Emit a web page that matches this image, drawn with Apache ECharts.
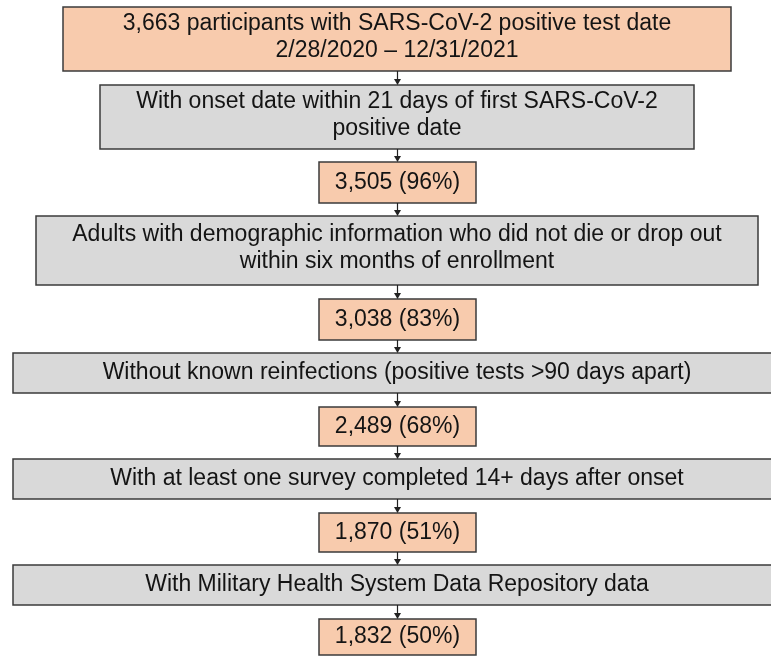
<!DOCTYPE html>
<html>
<head>
<meta charset="utf-8">
<script src="https://cdn.jsdelivr.net/npm/echarts@6/dist/echarts.min.js"></script>
<style>
html,body{margin:0;padding:0;background:#fff;}
#chart{width:771px;height:656px;}
</style>
</head>
<body>
<div id="chart"></div>
<script>
// ---- data ----
const startLines = ["3,663 participants with SARS-CoV-2 positive test date", "2/28/2020 \u2013 12/31/2021"];
const criteria = [
  ["With onset date within 21 days of first SARS-CoV-2", "positive date"],
  ["Adults with demographic information who did not die or drop out", "within six months of enrollment"],
  ["Without known reinfections (positive tests >90 days apart)"],
  ["With at least one survey completed 14+ days after onset"],
  ["With Military Health System Data Repository data"]
];
const counts = [3505, 3038, 2489, 1870, 1832];
const percents = [96, 83, 68, 51, 50];

// ---- layout (style, chart units: x 0..771, y 0..656 top-down) ----
const boxLayout = [
  [63, 731, 7, 71],
  [100, 694, 85, 149],
  [319, 476, 162, 203],
  [36, 758, 216, 285],
  [319, 476, 299, 340],
  [13, 781, 353, 393],
  [319, 476, 407, 446],
  [13, 781, 459, 499],
  [319, 476, 513, 552],
  [13, 781, 565, 605],
  [319, 476, 619, 655]
];
const arrowX = 397.5;
const ORANGE = '#F8CBAD', GRAY = '#D9D9D9', BORDER = '#3b3b3b', TEXT = '#141414';

// ---- build nodes ----
const fmt = n => n.toLocaleString('en-US');
const nodes = [{ lines: startLines, kind: 'count' }];
criteria.forEach((c, i) => {
  nodes.push({ lines: c, kind: 'criterion' });
  nodes.push({ lines: [fmt(counts[i]) + ' (' + percents[i] + '%)'], kind: 'count' });
});

const chart = echarts.init(document.getElementById('chart'), null, { renderer: 'canvas' });
chart.setOption({
  animation: false,
  backgroundColor: '#ffffff',
  grid: { left: 0, right: 0, top: 0, bottom: 0 },
  xAxis: { type: 'value', min: 0, max: 771, show: false },
  yAxis: { type: 'value', min: 0, max: 656, inverse: true, show: false },
  series: [{
    type: 'custom',
    clip: false,
    data: nodes.map((n, i) => [i, i]),
    renderItem: function (params, api) {
      const i = api.value(0);
      const node = nodes[i];
      const b = boxLayout[i];
      const tl = api.coord([b[0], b[2]]);
      const br = api.coord([b[1], b[3]]);
      const cx = (tl[0] + br[0]) / 2, cy = (tl[1] + br[1]) / 2;
      const children = [{
        type: 'rect',
        shape: { x: tl[0], y: tl[1], width: br[0] - tl[0], height: br[1] - tl[1] },
        style: { fill: node.kind === 'count' ? ORANGE : GRAY, stroke: BORDER, lineWidth: 1.5 }
      }, {
        type: 'text',
        style: {
          text: node.lines.join('\n'),
          x: cx, y: cy - (node.lines.length > 1 ? 2 : 0),
          align: 'center', verticalAlign: 'middle',
          font: '23px "Liberation Sans", Arial, sans-serif',
          lineHeight: 27,
          fill: TEXT
        }
      }];
      if (i > 0) {
        const pb = boxLayout[i - 1];
        const p0 = api.coord([arrowX, pb[3]]);
        const p1 = api.coord([arrowX, b[2]]);
        children.push({
          type: 'line',
          shape: { x1: p0[0], y1: p0[1], x2: p1[0], y2: p1[1] - 5 },
          style: { stroke: '#222', lineWidth: 1.2 }
        });
        children.push({
          type: 'polygon',
          shape: { points: [[p1[0] - 3.5, p1[1] - 6], [p1[0] + 3.5, p1[1] - 6], [p1[0], p1[1]]] },
          style: { fill: '#222' }
        });
      }
      return { type: 'group', children: children };
    }
  }]
});
</script>
</body>
</html>
